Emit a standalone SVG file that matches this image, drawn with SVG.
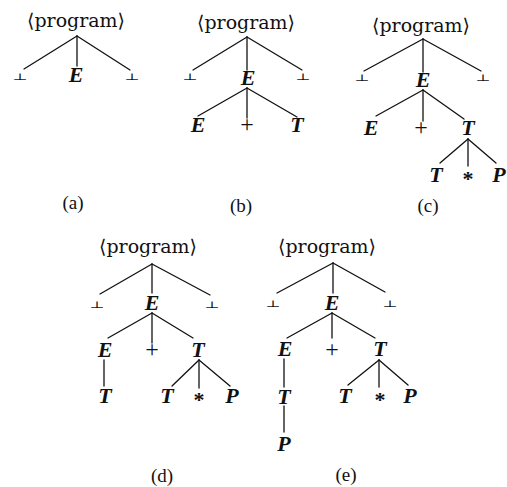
<svg xmlns="http://www.w3.org/2000/svg" width="507" height="487" viewBox="0 0 507 487">
<rect width="507" height="487" fill="#fff"/>
<g id="connectors" stroke="#111" stroke-width="1.3" stroke-linecap="round">
<line x1="77" y1="36" x2="24" y2="69"/><line x1="77" y1="36" x2="77" y2="66"/><line x1="77" y1="36" x2="130" y2="70"/>
<line x1="247" y1="37" x2="193" y2="70"/><line x1="247" y1="37" x2="247" y2="70"/><line x1="247" y1="37" x2="302" y2="70"/>
<line x1="247" y1="88" x2="198" y2="116"/><line x1="247" y1="88" x2="247" y2="118"/><line x1="247" y1="88" x2="297" y2="117"/>
<line x1="423" y1="39" x2="364" y2="71"/><line x1="423" y1="39" x2="423" y2="72"/><line x1="423" y1="39" x2="481" y2="71"/>
<line x1="423" y1="90" x2="376" y2="116"/><line x1="423" y1="90" x2="423" y2="121"/><line x1="423" y1="90" x2="464" y2="119"/>
<line x1="468" y1="139" x2="440" y2="163"/><line x1="468" y1="139" x2="468" y2="166"/><line x1="468" y1="139" x2="496" y2="163"/>
<line x1="152" y1="264" x2="100" y2="294"/><line x1="152" y1="264" x2="152" y2="293"/><line x1="152" y1="264" x2="210" y2="295"/>
<line x1="152" y1="313" x2="108" y2="338"/><line x1="152" y1="313" x2="152" y2="343"/><line x1="152" y1="313" x2="193" y2="338"/>
<line x1="104" y1="360" x2="104" y2="386"/>
<line x1="199" y1="360" x2="172" y2="386"/><line x1="199" y1="360" x2="199" y2="388"/><line x1="199" y1="360" x2="230" y2="386"/>
<line x1="333" y1="263" x2="277" y2="293"/><line x1="333" y1="263" x2="333" y2="293"/><line x1="333" y1="263" x2="385" y2="292"/>
<line x1="332" y1="313" x2="287" y2="338"/><line x1="332" y1="313" x2="332" y2="338"/><line x1="332" y1="313" x2="375" y2="338"/>
<line x1="284" y1="359" x2="284" y2="387"/><line x1="284" y1="406" x2="284" y2="432"/>
<line x1="379" y1="360" x2="348" y2="385"/><line x1="379" y1="360" x2="379" y2="387"/><line x1="379" y1="360" x2="408" y2="385"/>
</g>

<g id="nodes" text-anchor="middle" fill="#111">
<g id="a-root"><text font-family="DejaVu Serif" font-size="19" x="76" y="27" textLength="98" lengthAdjust="spacingAndGlyphs">⟨program⟩</text></g>
<g id="a-bot1"><text font-family="DejaVu Serif" font-size="16" transform="translate(20,80) scale(1,0.6)">⊥</text></g>
<g id="a-E"><text font-family="Liberation Serif" font-size="22" font-style="italic" font-weight="bold" x="76" y="82">E</text></g>
<g id="a-bot2"><text font-family="DejaVu Serif" font-size="16" transform="translate(132,80) scale(1,0.6)">⊥</text></g>
<g id="a-label"><text font-family="Liberation Serif" font-size="19" x="73" y="209">(a)</text></g>

<g id="b-root"><text font-family="DejaVu Serif" font-size="19" x="246" y="29" textLength="98" lengthAdjust="spacingAndGlyphs">⟨program⟩</text></g>
<g id="b-bot1"><text font-family="DejaVu Serif" font-size="16" transform="translate(190,80) scale(1,0.6)">⊥</text></g>
<g id="b-E"><text font-family="Liberation Serif" font-size="22" font-style="italic" font-weight="bold" x="248" y="85">E</text></g>
<g id="b-bot2"><text font-family="DejaVu Serif" font-size="16" transform="translate(303,80) scale(1,0.6)">⊥</text></g>
<g id="b-E2"><text font-family="Liberation Serif" font-size="22" font-style="italic" font-weight="bold" x="198" y="132">E</text></g>
<g id="b-plus"><text font-family="Liberation Serif" font-size="24" x="247" y="132">+</text></g>
<g id="b-T"><text font-family="Liberation Serif" font-size="22" font-style="italic" font-weight="bold" x="297" y="132">T</text></g>
<g id="b-label"><text font-family="Liberation Serif" font-size="19" x="241" y="212">(b)</text></g>

<g id="c-root"><text font-family="DejaVu Serif" font-size="19" x="421" y="32" textLength="98" lengthAdjust="spacingAndGlyphs">⟨program⟩</text></g>
<g id="c-bot1"><text font-family="DejaVu Serif" font-size="16" transform="translate(362,81) scale(1,0.6)">⊥</text></g>
<g id="c-E"><text font-family="Liberation Serif" font-size="22" font-style="italic" font-weight="bold" x="423" y="87">E</text></g>
<g id="c-bot2"><text font-family="DejaVu Serif" font-size="16" transform="translate(483,81) scale(1,0.6)">⊥</text></g>
<g id="c-E2"><text font-family="Liberation Serif" font-size="22" font-style="italic" font-weight="bold" x="371" y="135">E</text></g>
<g id="c-plus"><text font-family="Liberation Serif" font-size="24" x="421" y="135">+</text></g>
<g id="c-T"><text font-family="Liberation Serif" font-size="22" font-style="italic" font-weight="bold" x="468" y="135">T</text></g>
<g id="c-T2"><text font-family="Liberation Serif" font-size="22" font-style="italic" font-weight="bold" x="436" y="182">T</text></g>
<g id="c-star"><text font-family="Liberation Serif" font-size="22" font-weight="bold" x="468" y="186">*</text></g>
<g id="c-P"><text font-family="Liberation Serif" font-size="22" font-style="italic" font-weight="bold" x="499" y="182">P</text></g>
<g id="c-label"><text font-family="Liberation Serif" font-size="19" x="428" y="212">(c)</text></g>

<g id="d-root"><text font-family="DejaVu Serif" font-size="19" x="148" y="253" textLength="98" lengthAdjust="spacingAndGlyphs">⟨program⟩</text></g>
<g id="d-bot1"><text font-family="DejaVu Serif" font-size="16" transform="translate(97,308) scale(1,0.6)">⊥</text></g>
<g id="d-E"><text font-family="Liberation Serif" font-size="22" font-style="italic" font-weight="bold" x="152" y="310">E</text></g>
<g id="d-bot2"><text font-family="DejaVu Serif" font-size="16" transform="translate(212,308) scale(1,0.6)">⊥</text></g>
<g id="d-E2"><text font-family="Liberation Serif" font-size="22" font-style="italic" font-weight="bold" x="105" y="357">E</text></g>
<g id="d-plus"><text font-family="Liberation Serif" font-size="24" x="152" y="357">+</text></g>
<g id="d-T"><text font-family="Liberation Serif" font-size="22" font-style="italic" font-weight="bold" x="198" y="357">T</text></g>
<g id="d-T3"><text font-family="Liberation Serif" font-size="22" font-style="italic" font-weight="bold" x="105" y="403">T</text></g>
<g id="d-T2"><text font-family="Liberation Serif" font-size="22" font-style="italic" font-weight="bold" x="167" y="403">T</text></g>
<g id="d-star"><text font-family="Liberation Serif" font-size="22" font-weight="bold" x="199" y="407">*</text></g>
<g id="d-P"><text font-family="Liberation Serif" font-size="22" font-style="italic" font-weight="bold" x="232" y="403">P</text></g>
<g id="d-label"><text font-family="Liberation Serif" font-size="19" x="162" y="482">(d)</text></g>

<g id="e-root"><text font-family="DejaVu Serif" font-size="19" x="327" y="253" textLength="98" lengthAdjust="spacingAndGlyphs">⟨program⟩</text></g>
<g id="e-bot1"><text font-family="DejaVu Serif" font-size="16" transform="translate(273,307) scale(1,0.6)">⊥</text></g>
<g id="e-E"><text font-family="Liberation Serif" font-size="22" font-style="italic" font-weight="bold" x="332" y="310">E</text></g>
<g id="e-bot2"><text font-family="DejaVu Serif" font-size="16" transform="translate(390,307) scale(1,0.6)">⊥</text></g>
<g id="e-E2"><text font-family="Liberation Serif" font-size="22" font-style="italic" font-weight="bold" x="285" y="356">E</text></g>
<g id="e-plus"><text font-family="Liberation Serif" font-size="24" x="332" y="357">+</text></g>
<g id="e-T"><text font-family="Liberation Serif" font-size="22" font-style="italic" font-weight="bold" x="380" y="356">T</text></g>
<g id="e-T3"><text font-family="Liberation Serif" font-size="22" font-style="italic" font-weight="bold" x="284" y="404">T</text></g>
<g id="e-P2"><text font-family="Liberation Serif" font-size="22" font-style="italic" font-weight="bold" x="284" y="451">P</text></g>
<g id="e-T2"><text font-family="Liberation Serif" font-size="22" font-style="italic" font-weight="bold" x="345" y="403">T</text></g>
<g id="e-star"><text font-family="Liberation Serif" font-size="22" font-weight="bold" x="380" y="407">*</text></g>
<g id="e-P"><text font-family="Liberation Serif" font-size="22" font-style="italic" font-weight="bold" x="410" y="403">P</text></g>
<g id="e-label"><text font-family="Liberation Serif" font-size="19" x="346" y="481">(e)</text></g>
</g>
</svg>
